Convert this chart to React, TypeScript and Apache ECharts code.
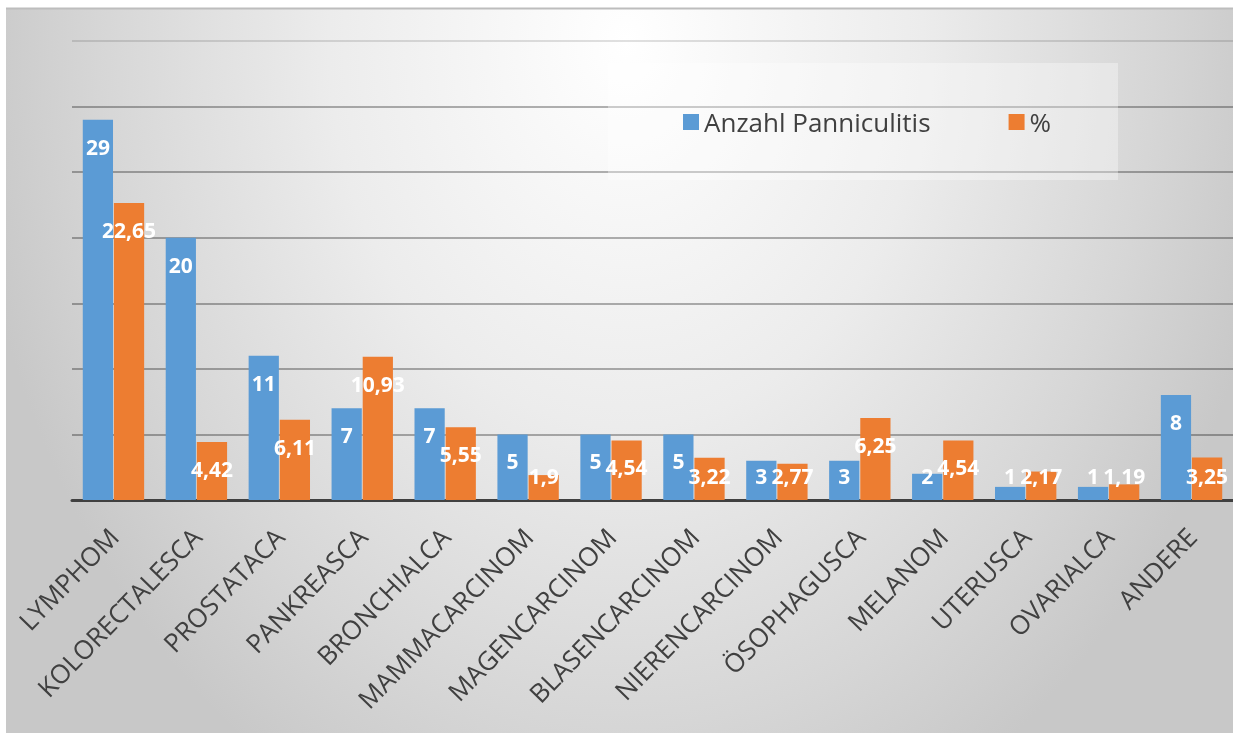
import React, { useEffect, useRef } from "react";
import * as echarts from "echarts";

const categories = [
  "LYMPHOM",
  "KOLORECTALESCA",
  "PROSTATACA",
  "PANKREASCA",
  "BRONCHIALCA",
  "MAMMACARCINOM",
  "MAGENCARCINOM",
  "BLASENCARCINOM",
  "NIERENCARCINOM",
  "ÖSOPHAGUSCA",
  "MELANOM",
  "UTERUSCA",
  "OVARIALCA",
  "ANDERE",
];
const anzahl = [29, 20, 11, 7, 7, 5, 5, 5, 3, 3, 2, 1, 1, 8];
const prozent = [22.65, 4.42, 6.11, 10.93, 5.55, 1.9, 4.54, 3.22, 2.77, 6.25, 4.54, 2.17, 1.19, 3.25];
const seriesNames = ["Anzahl Panniculitis", "%"];
const Y_MIN = 0;
const Y_MAX = 35;
const Y_INTERVAL = 5;

// values too small for a label inside the bar top get their label at the bar base
const BASE_LABEL_BELOW = 4;

const FONT = "'Open Sans', 'DejaVu Sans', sans-serif";
const BLUE = "#5B9BD5";
const ORANGE = "#ED7D31";

const fmt = (p: any) => String(p.value).replace(".", ",");

const toItems = (arr: number[]) =>
  arr.map((v) =>
    v < BASE_LABEL_BELOW
      ? { value: v, label: { position: "insideBottom", distance: 14 } }
      : { value: v }
  );

export default function App() {
  const ref = useRef<HTMLDivElement>(null);

  useEffect(() => {
    if (!ref.current) return;
    const chart = echarts.init(ref.current, undefined, { renderer: "svg" });

    const labelStyle = {
      show: true,
      position: "insideTop",
      distance: 17,
      color: "#ffffff",
      fontWeight: "bold",
      fontSize: 21,
      lineHeight: 20,
      fontFamily: FONT,
      formatter: fmt,
    };

    const option: any = {
      animation: false,
      backgroundColor: "transparent",
      graphic: {
        elements: [
          {
            type: "rect",
            x: 6,
            y: 8,
            scaleY: 1.3,
            z: -10,
            silent: true,
            shape: { x: 0, y: 0, width: 1240, height: 570 },
            style: {
              fill: new echarts.graphic.RadialGradient(
                620,
                25,
                660,
                [
                  { offset: 0, color: "#ffffff" },
                  { offset: 0.45, color: "#ececec" },
                  { offset: 0.8, color: "#d6d6d6" },
                  { offset: 1, color: "#c8c8c8" },
                ],
                true
              ),
            },
          },
          {
            type: "line",
            z: -9,
            silent: true,
            shape: { x1: 6, y1: 8.5, x2: 1240, y2: 8.5 },
            style: { stroke: "#bdbdbd", lineWidth: 2 },
          },
          {
            type: "rect",
            z: 1,
            silent: true,
            shape: { x: 608, y: 63, width: 510, height: 117 },
            style: { fill: "rgba(255,255,255,0.35)" },
          },
        ],
      },
      legend: {
        data: seriesNames,
        left: 683,
        top: 109,
        padding: 0,
        icon: "rect",
        itemWidth: 16,
        itemHeight: 16,
        itemGap: 78,
        z: 5,
        textStyle: { fontSize: 26, color: "#404040", fontFamily: FONT },
      },
      grid: { left: 72, top: 41, width: 1163, height: 459, containLabel: false },
      xAxis: {
        type: "category",
        data: categories,
        axisLine: { lineStyle: { color: "#404040", width: 3 } },
        axisTick: { show: false },
        axisLabel: {
          interval: 0,
          rotate: 46,
          margin: 32,
          fontSize: 26,
          color: "#404040",
          fontFamily: FONT,
        },
      },
      yAxis: {
        type: "value",
        min: Y_MIN,
        max: Y_MAX,
        interval: Y_INTERVAL,
        axisLabel: { show: false },
        axisLine: { show: false },
        axisTick: { show: false },
        splitLine: {
          lineStyle: {
            color: [
              "rgba(0,0,0,0.3)",
              "rgba(0,0,0,0.3)",
              "rgba(0,0,0,0.3)",
              "rgba(0,0,0,0.3)",
              "rgba(0,0,0,0.3)",
              "rgba(0,0,0,0.3)",
              "rgba(0,0,0,0.3)",
              "rgba(0,0,0,0.12)",
            ],
            width: 2,
          },
        },
      },
      series: [
        {
          name: seriesNames[0],
          type: "bar",
          data: toItems(anzahl),
          itemStyle: { color: BLUE },
          barGap: "3%",
          barCategoryGap: "26%",
          label: labelStyle,
        },
        {
          name: seriesNames[1],
          type: "bar",
          data: toItems(prozent),
          itemStyle: { color: ORANGE },
          label: labelStyle,
        },
      ],
    };

    chart.setOption(option);
    return () => chart.dispose();
  }, []);

  return (
    <div
      ref={ref}
      style={{ position: "fixed", left: 0, top: 0, width: 1233, height: 733 }}
    />
  );
}
